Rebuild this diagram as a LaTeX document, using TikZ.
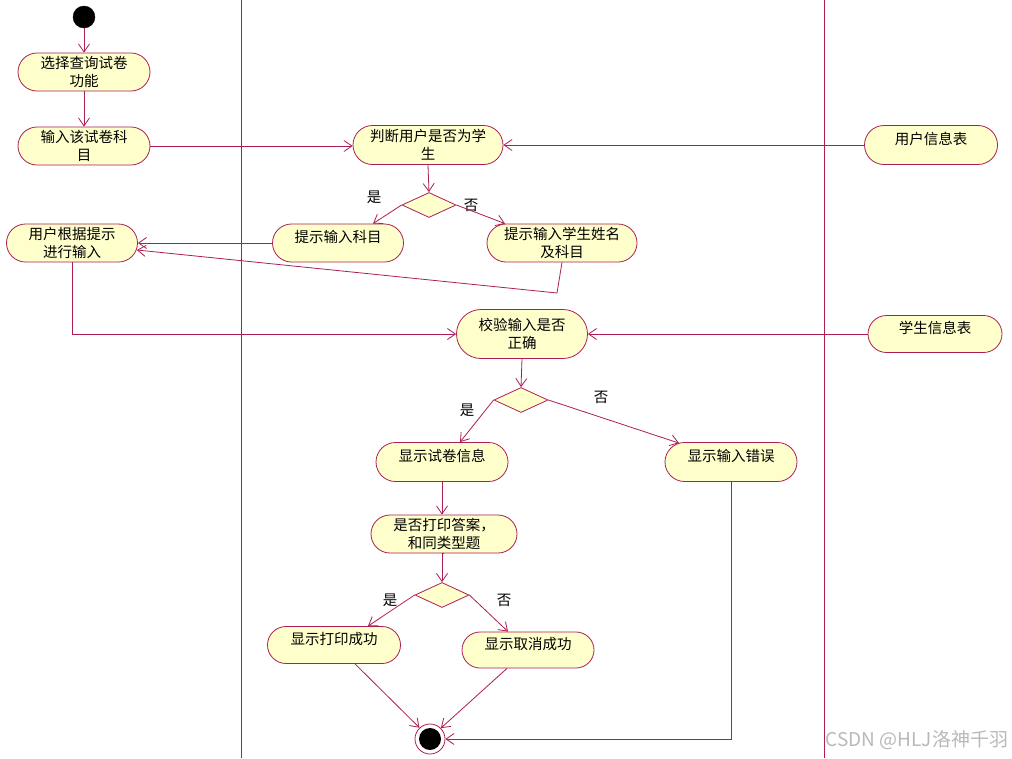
\documentclass[tikz,border=0pt]{standalone}
\usepackage{fontspec}
\setmainfont{Noto Sans CJK SC}
\usetikzlibrary{shapes.misc,shapes.geometric,arrows.meta,calc}
\definecolor{umlline}{RGB}{172,30,85}
\definecolor{umlfill}{RGB}{255,255,204}
\definecolor{wmark}{RGB}{185,185,185}
\begin{document}
\begin{tikzpicture}[x=1pt,y=-1pt,
  act/.style={rounded rectangle, draw=umlline, fill=umlfill, line width=0.8pt,
    align=center, font=\fontsize{14.5}{18}\selectfont, inner sep=0pt},
  oneline/.style={text depth=14pt},
  dec/.style={diamond, draw=umlline, fill=umlfill, line width=0.8pt, inner sep=0pt,
    minimum width=54pt, minimum height=25pt},
  flow/.style={draw=umlline, line width=0.8pt, -{Straight Barb[length=8pt,width=11pt,line width=0.8pt]}},
  lane/.style={draw=umlline, line width=0.9pt},
  lbl/.style={font=\fontsize{14.5}{16}\selectfont, inner sep=0pt}
]
\fill[white] (0,0) rectangle (1012,758);
\useasboundingbox (0,0) rectangle (1012,758);

% swimlane separators
\draw[lane] (241,0) -- (241,758);
\draw[lane] (824,0) -- (824,758);

% start / end
\node[circle, fill=black, draw=black, minimum size=22pt, inner sep=0pt] (start) at (84,17) {};
\node[circle, draw=umlline, fill=white, line width=0.8pt, minimum size=30pt, inner sep=0pt] (end) at (430,739) {};
\node[circle, fill=black, minimum size=22pt, inner sep=0pt] (endin) at (430,739) {};

% activities
\node[act, minimum width=132pt, minimum height=38pt] (sel) at (84,72) {选择查询试卷\\功能};
\node[act, minimum width=132pt, minimum height=38pt] (inp) at (84,146) {输入该试卷科\\目};
\node[act, minimum width=131pt, minimum height=38pt] (usr) at (72,243) {用户根据提示\\进行输入};
\node[act, minimum width=150pt, minimum height=39pt] (judge) at (428,145) {判断用户是否为学\\生};
\node[act, oneline, minimum width=131pt, minimum height=38pt] (tip1) at (338,243) {提示输入科目};
\node[act, minimum width=150pt, minimum height=38pt] (tip2) at (562,243) {提示输入学生姓名\\及科目};
\node[act, oneline, minimum width=133pt, minimum height=39pt] (uinfo) at (931,145) {用户信息表};
\node[act, oneline, minimum width=134pt, minimum height=37pt] (sinfo) at (935,334) {学生信息表};
\node[act, minimum width=131pt, minimum height=49pt] (check) at (522,334) {校验输入是否\\正确};
\node[act, oneline, minimum width=132pt, minimum height=39pt] (show) at (442,462) {显示试卷信息};
\node[act, oneline, minimum width=132pt, minimum height=39pt] (err) at (731,462) {显示输入错误};
\node[act, minimum width=146pt, minimum height=38pt] (ask) at (444,534) {是否打印答案，\\和同类型题};
\node[act, oneline, minimum width=133pt, minimum height=37pt] (ok) at (334,645) {显示打印成功};
\node[act, oneline, minimum width=132pt, minimum height=36pt] (cancel) at (528,650) {显示取消成功};

% decisions
\node[dec] (d1) at (429,205) {};
\node[dec] (d2) at (521,400) {};
\node[dec] (d3) at (442,595) {};

% labels
\node[lbl] (l1) at (374,197) {是};
\node[lbl] (l2) at (471,205) {否};
\node[lbl] (l3) at (467,410) {是};
\node[lbl] (l4) at (601,397) {否};
\node[lbl] (l5) at (390,600) {是};
\node[lbl] (l6) at (504,600) {否};

% connectors
\draw[flow] (start) -- (sel.north);
\draw[flow] (sel.south) -- (inp.north);
\draw[flow] (inp.east) -- (inp.east -| judge.west);
\draw[flow] (uinfo.west) -- (judge.east);
\draw[flow] (judge.south) -- (d1.north);
\draw[flow] (d1.west) -- ($(tip1.north)+(35,0)$);
\draw[flow] (d1.east) -- ($(tip2.north)+(-57,0)$);
\draw[flow] (tip1.west) -- (usr.east);
\coordinate (bend) at (557,293);
\draw[flow] (tip2.south) -- (bend) -- ($(usr.east)+(-1,7)$);
\draw[flow] (usr.south) |- (check.west);
\draw[flow] (sinfo.west) -- (check.east);
\draw[flow] (check.south) -- (d2.north);
\draw[flow] (d2.west) -- ($(show.north)+(18,0)$);
\draw[flow] (d2.east) -- ($(err.north)+(-52,1)$);
\draw[flow] (show.south) -- (show.south |- ask.north);
\draw[flow] (ask.south) -- (ask.south -| d3.north) -- (d3.north);
\draw[flow] (d3.west) -- ($(ok.north)+(34,0)$);
\draw[flow] (d3.east) -- ($(cancel.north)+(-20,0)$);
\draw[flow] ($(ok.south)+(21,0)$) -- (end.133);
\draw[flow] ($(cancel.south)+(-21,0)$) -- (end.45);
\draw[flow] (err.south) |- (end.east);

% watermark
\node[font=\fontsize{19}{21}\selectfont, text=wmark, inner sep=0pt] (wm) at (917,740) {CSDN @HLJ洛神千羽};
\end{tikzpicture}
\end{document}
